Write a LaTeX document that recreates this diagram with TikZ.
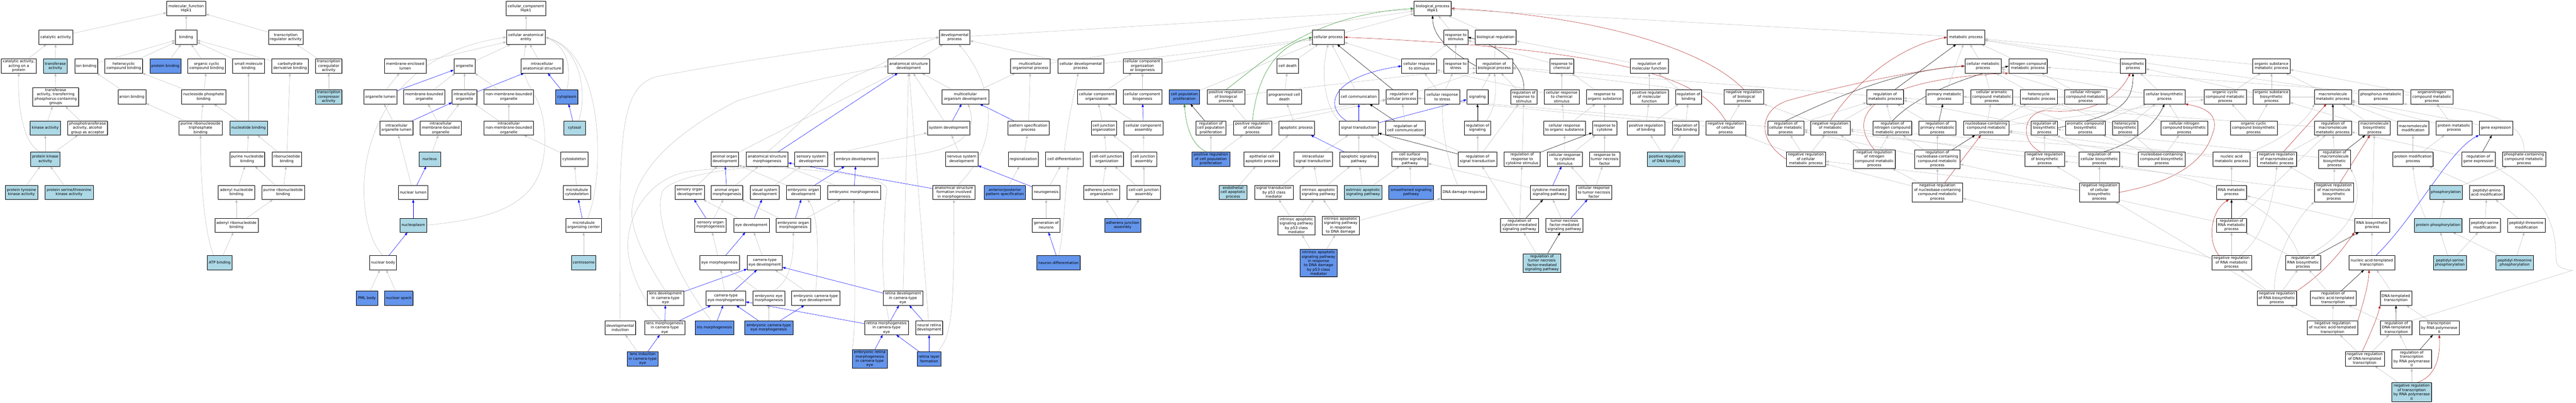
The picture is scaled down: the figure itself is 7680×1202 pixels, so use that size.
\documentclass[tikz,border=0pt]{standalone}
\usepackage{fontspec}
\setmainfont{DejaVu Sans}
\usetikzlibrary{arrows.meta,shadows}
\pgfdeclarelayer{bgfill}
\pgfdeclarelayer{edges}
\pgfsetlayers{bgfill,edges,main}
\definecolor{edgegray}{HTML}{BEBEBE}
\definecolor{lblue}{HTML}{ADD8E6}
\definecolor{cblue}{HTML}{6495ED}
\definecolor{fgreen}{HTML}{228B22}
\definecolor{fbrick}{HTML}{B22222}
\tikzset{
 box/.style={draw=black, line width=0.9pt, fill=white, align=center, inner xsep=2pt, inner ysep=1pt,
   minimum height=42pt, font=\fontsize{11}{13}\selectfont,
   drop shadow={shadow xshift=1.3pt, shadow yshift=-1.3pt, fill=gray!75, opacity=1}},
 flb/.style={fill=lblue}, fcb/.style={fill=cblue},
 hfour/.style={minimum height=56pt}, hsix/.style={minimum height=82pt},
 ebase/.style={line width=0.8pt, -{Triangle[length=9pt,width=6.5pt]}},
 ge/.style={ebase, color=edgegray},
 be/.style={ebase, color=blue},
 ke/.style={ebase, color=black},
 gre/.style={ebase, color=fgreen},
 re/.style={ebase, color=fbrick}
}
\newcommand\gonode[6]{\node[box,#5,minimum width=#4pt] (#1) at (#2,#3) {#6};}
\newcommand\Egray[2]{\draw[ge] (#1) -- (#2);}
\newcommand\Eblue[2]{\draw[be] (#1) -- (#2);}
\newcommand\Eblack[2]{\draw[ke] (#1) -- (#2);}
\newcommand\Ered[2]{\draw[re] (#1) -- (#2);}
\begin{document}
\begin{tikzpicture}[x=1pt,y=-1pt]
\begin{pgfonlayer}{bgfill}\fill[white] (0,0) rectangle (7680,1202);\end{pgfonlayer}
\useasboundingbox (0,0) rectangle (7680,1202);
% ---------------- molecular function
\gonode{mf}{555}{25}{116}{}{molecular\_function\\Hipk1}
\gonode{ca}{166}{111}{101}{}{catalytic activity}
\gonode{bind}{555}{111}{64}{}{binding}
\gonode{tra}{852}{111}{104}{}{transcription\\regulator activity}
\gonode{caap}{56}{197}{104}{}{catalytic activity,\\acting on a\\protein}
\gonode{ta}{165}{197}{71}{flb}{transferase\\activity}
\gonode{ionb}{257}{197}{69}{}{ion binding}
\gonode{hcb}{369}{197}{112}{}{heterocyclic\\compound binding}
\gonode{pb}{493}{197}{92}{fcb}{protein binding}
\gonode{occb}{616}{197}{112}{}{organic cyclic\\compound binding}
\gonode{smb}{741}{197}{95}{}{small molecule\\binding}
\gonode{cdb}{865}{197}{109}{}{carbohydrate\\derivative binding}
\gonode{tcoa}{980}{197}{79}{}{transcription\\coregulator\\activity}
\gonode{tcra}{980}{289}{79}{flb}{transcription\\corepressor\\activity}
\gonode{tatp}{166}{289}{137}{hfour}{transferase\\activity, transferring\\phosphorus-containing\\groups}
\gonode{anb}{393}{289}{83}{}{anion binding}
\gonode{npb}{607}{289}{131}{}{nucleoside phosphate\\binding}
\gonode{ka}{135}{382}{90}{flb}{kinase activity}
\gonode{pta}{261}{382}{119}{}{phosphotransferase\\activity, alcohol\\group as acceptor}
\gonode{prtb}{598}{382}{130}{}{purine ribonucleoside\\triphosphate\\binding}
\gonode{ntb}{741}{382}{112}{flb}{nucleotide binding}
\gonode{pka}{135}{475}{88}{flb}{protein kinase\\activity}
\gonode{pnb}{737}{475}{104}{}{purine nucleotide\\binding}
\gonode{rnb}{855}{475}{88}{}{ribonucleotide\\binding}
\gonode{ptk}{64}{574}{97}{flb}{protein tyrosine\\kinase activity}
\gonode{pstk}{206}{574}{144}{flb}{protein serine/threonine\\kinase activity}
\gonode{anb2}{705}{574}{109}{}{adenyl nucleotide\\binding}
\gonode{prnb}{844}{574}{127}{}{purine ribonucleotide\\binding}
\gonode{arnb}{705}{672}{129}{}{adenyl ribonucleotide\\binding}
\gonode{atpb}{655}{784}{74}{flb}{ATP binding}
% ---------------- cellular component
\gonode{cc}{1568}{25}{118}{}{cellular\_component\\Hipk1}
\gonode{cae}{1568}{111}{116}{}{cellular anatomical\\entity}
\gonode{mel}{1208}{197}{124}{}{membrane-enclosed\\lumen}
\gonode{org}{1385}{197}{64}{}{organelle}
\gonode{ias}{1616}{197}{125}{}{intracellular\\anatomical structure}
\gonode{orgl}{1134}{289}{99}{}{organelle lumen}
\gonode{mbo}{1265}{289}{123}{}{membrane-bounded\\organelle}
\gonode{io}{1385}{289}{74}{}{intracellular\\organelle}
\gonode{nmbo}{1517}{289}{147}{}{non-membrane-bounded\\organelle}
\gonode{cyto}{1690}{289}{66}{fcb}{cytoplasm}
\gonode{iol}{1182}{382}{99}{}{intracellular\\organelle lumen}
\gonode{imbo}{1314}{382}{123}{}{intracellular\\membrane-bounded\\organelle}
\gonode{inmbo}{1517}{382}{147}{}{intracellular\\non-membrane-bounded\\organelle}
\gonode{cytosol}{1713}{382}{64}{flb}{cytosol}
\gonode{nucleus}{1281}{475}{64}{flb}{nucleus}
\gonode{cysk}{1712}{475}{81}{}{cytoskeleton}
\gonode{nlum}{1232}{574}{87}{}{nuclear lumen}
\gonode{mtcs}{1720}{574}{80}{}{microtubule\\cytoskeleton}
\gonode{npl}{1232}{672}{79}{flb}{nucleoplasm}
\gonode{mtoc}{1740}{672}{105}{}{microtubule\\organizing center}
\gonode{nbody}{1142}{784}{80}{}{nuclear body}
\gonode{csome}{1740}{784}{73}{flb}{centrosome}
\gonode{pml}{1094}{890}{64}{fcb}{PML body}
\gonode{nspeck}{1189}{890}{85}{fcb}{nuclear speck}
% ---------------- development
\gonode{devind}{1849}{978}{92}{}{developmental\\induction}
\gonode{lensind}{1916}{1071}{92}{fcb}{lens induction\\in camera-type\\eye}
\gonode{aod}{2161}{475}{81}{}{animal organ\\development}
\gonode{asm}{2287}{475}{125}{}{anatomical structure\\morphogenesis}
\gonode{ssd}{2418}{475}{97}{}{sensory system\\development}
\gonode{embd}{2552}{475}{130}{}{embryo development}
\gonode{sod}{2056}{574}{88}{}{sensory organ\\development}
\gonode{aom}{2167}{574}{95}{}{animal organ\\morphogenesis}
\gonode{vsd}{2280}{574}{85}{}{visual system\\development}
\gonode{eod}{2395}{574}{102}{}{embryonic organ\\development}
\gonode{embm}{2546}{574}{158}{}{embryonic morphogenesis}
\gonode{som}{2118}{672}{94}{}{sensory organ\\morphogenesis}
\gonode{eyed}{2240}{672}{106}{}{eye development}
\gonode{eom}{2365}{672}{102}{}{embryonic organ\\morphogenesis}
\gonode{eyem}{2145}{784}{118}{}{eye morphogenesis}
\gonode{cted}{2280}{784}{105}{}{camera-type\\eye development}
\gonode{lensd}{1984}{890}{108}{}{lens development\\in camera-type\\eye}
\gonode{ctem}{2164}{890}{118}{}{camera-type\\eye morphogenesis}
\gonode{eem}{2292}{890}{95}{}{embryonic eye\\morphogenesis}
\gonode{ected}{2432}{890}{144}{}{embryonic camera-type\\eye development}
\gonode{lensm}{1982}{978}{120}{}{lens morphogenesis\\in camera-type\\eye}
\gonode{irism}{2130}{978}{116}{fcb}{iris morphogenesis}
\gonode{ectem}{2292}{978}{144}{fcb}{embryonic camera-type\\eye morphogenesis}
\gonode{erm}{2593}{1071}{104}{fcb,hfour}{embryonic retina\\morphogenesis\\in camera-type\\eye}
\gonode{devp}{2846}{111}{91}{}{developmental\\process}
\gonode{asd}{2709}{197}{124}{}{anatomical structure\\development}
\gonode{mop}{3072}{197}{118}{}{multicellular\\organismal process}
\gonode{cdp}{3222}{197}{137}{}{cellular developmental\\process}
\gonode{mod}{2878}{289}{139}{}{multicellular\\organism development}
\gonode{sysd}{2828}{382}{127}{}{system development}
\gonode{psp}{3066}{382}{123}{}{pattern specification\\process}
\gonode{nsd}{2867}{475}{97}{}{nervous system\\development}
\gonode{regz}{3051}{475}{90}{}{regionalization}
\gonode{celld}{3173}{475}{111}{}{cell differentiation}
\gonode{asfim}{2844}{574}{126}{}{anatomical structure\\formation involved\\in morphogenesis}
\gonode{aps}{2996}{574}{123}{fcb}{anterior/posterior\\pattern specification}
\gonode{neurog}{3119}{574}{83}{}{neurogenesis}
\gonode{genn}{3119}{672}{83}{}{generation of\\neurons}
\gonode{neurd}{3156}{784}{129}{fcb}{neuron differentiation}
\gonode{retd}{2692}{890}{118}{}{retina development\\in camera-type\\eye}
\gonode{retm}{2643}{978}{130}{}{retina morphogenesis\\in camera-type\\eye}
\gonode{nretd}{2770}{978}{81}{}{neural retina\\development}
\gonode{retlf}{2770}{1071}{71}{fcb}{retina layer\\formation}
% ---------------- cellular processes
\gonode{ccob}{3406}{197}{115}{}{cellular component\\organization\\or biogenesis}
\gonode{cco}{3270}{289}{116}{}{cellular component\\organization}
\gonode{ccb}{3406}{289}{115}{}{cellular component\\biogenesis}
\gonode{cpp}{3531}{289}{90}{fcb}{cell population\\proliferation}
\gonode{prbp}{3655}{289}{113}{}{positive regulation\\of biological\\process}
\gonode{cjo}{3291}{382}{76}{}{cell junction\\organization}
\gonode{cca}{3409}{382}{116}{}{cellular component\\assembly}
\gonode{rcpp}{3610}{382}{90}{}{regulation of\\cell population\\proliferation}
\gonode{prcp}{3734}{382}{113}{}{positive regulation\\of cellular\\process}
\gonode{ccjo}{3300}{475}{99}{}{cell-cell junction\\organization}
\gonode{cja}{3410}{475}{76}{}{cell junction\\assembly}
\gonode{prcpp}{3610}{475}{114}{fcb}{positive regulation\\of cell population\\proliferation}
\gonode{ecap}{3762}{475}{106}{}{epithelial cell\\apoptotic process}
\gonode{ajo}{3284}{574}{108}{}{adherens junction\\organization}
\gonode{ccja}{3410}{574}{100}{}{cell-cell junction\\assembly}
\gonode{endap}{3676}{574}{82}{flb}{endothelial\\cell apoptotic\\process}
\gonode{stp53}{3798}{574}{115}{}{signal transduction\\by p53 class\\mediator}
\gonode{aja}{3347}{672}{108}{fcb}{adherens junction\\assembly}
% ---------------- biological process core
\gonode{bp}{4271}{25}{111}{}{biological\_process\\Hipk1}
\gonode{cp}{3960}{111}{95}{}{cellular process}
\gonode{rts}{4340}{111}{72}{}{response to\\stimulus}
\gonode{breg}{4459}{111}{122}{}{biological regulation}
\gonode{celldeath}{3839}{197}{64}{}{cell death}
\gonode{crs}{4231}{197}{104}{}{cellular response\\to stimulus}
\gonode{rtstress}{4340}{197}{72}{}{response to\\stress}
\gonode{rbp}{4455}{197}{109}{}{regulation of\\biological process}
\gonode{pcd}{3829}{289}{103}{}{programmed cell\\death}
\gonode{ccomm}{4051}{289}{118}{}{cell communication}
\gonode{rcp}{4179}{289}{94}{}{regulation of\\cellular process}
\gonode{crstress}{4300}{289}{104}{}{cellular response\\to stress}
\gonode{sig}{4405}{289}{64}{}{signaling}
\gonode{apop}{3865}{382}{106}{}{apoptotic process}
\gonode{st}{4051}{382}{116}{}{signal transduction}
\gonode{rcc}{4190}{382}{119}{}{regulation of\\cell communication}
\gonode{rsig}{4405}{382}{78}{}{regulation of\\signaling}
\gonode{ist}{3915}{475}{115}{}{intracellular\\signal transduction}
\gonode{asp}{4051}{475}{115}{}{apoptotic signaling\\pathway}
\gonode{csrsp}{4203}{475}{108}{}{cell surface\\receptor signaling\\pathway}
\gonode{rst}{4405}{475}{116}{}{regulation of\\signal transduction}
\gonode{iasp}{3931}{574}{110}{}{intrinsic apoptotic\\signaling pathway}
\gonode{easp}{4064}{574}{111}{flb}{extrinsic apoptotic\\signaling pathway}
\gonode{ssp}{4207}{574}{133}{fcb}{smoothened signaling\\pathway}
\gonode{ddr}{4364}{574}{136}{}{DNA damage response}
\gonode{iasp53}{3865}{673}{111}{hfour}{intrinsic apoptotic\\signaling pathway\\by p53 class\\mediator}
\gonode{iaspdna}{3997}{673}{111}{hfour}{intrinsic apoptotic\\signaling pathway\\in response\\to DNA damage}
\gonode{iaspdna53}{3931}{785}{110}{fcb,hsix}{intrinsic apoptotic\\signaling pathway\\in response\\to DNA damage\\by p53 class\\mediator}
\gonode{rtc}{4656}{197}{72}{}{response to\\chemical}
\gonode{rmf}{4917}{197}{113}{}{regulation of\\molecular function}
\gonode{rrs}{4543}{289}{78}{}{regulation of\\response to\\stimulus}
\gonode{crcs}{4656}{289}{103}{}{cellular response\\to chemical\\stimulus}
\gonode{ros}{4784}{289}{109}{}{response to\\organic substance}
\gonode{prmf}{4917}{289}{113}{}{positive regulation\\of molecular\\function}
\gonode{rbind}{5034}{289}{78}{}{regulation of\\binding}
\gonode{cros}{4664}{382}{124}{}{cellular response\\to organic substance}
\gonode{rtcyt}{4784}{382}{73}{}{response to\\cytokine}
\gonode{prbind}{4907}{382}{113}{}{positive regulation\\of binding}
\gonode{rdnab}{5025}{382}{78}{}{regulation of\\DNA binding}
\gonode{nrcp}{5145}{382}{118}{}{negative regulation\\of cellular\\process}
\gonode{rrcs}{4538}{475}{108}{}{regulation of\\response to\\cytokine stimulus}
\gonode{crcyt}{4665}{475}{104}{}{cellular response\\to cytokine\\stimulus}
\gonode{rtnf}{4784}{475}{90}{}{response to\\tumor necrosis\\factor}
\gonode{prdnab}{4967}{475}{113}{flb}{positive regulation\\of DNA binding}
\gonode{cmsp}{4620}{574}{114}{}{cytokine-mediated\\signaling pathway}
\gonode{crtnf}{4752}{574}{105}{}{cellular response\\to tumor necrosis\\factor}
\gonode{rcmsp}{4530}{672}{114}{}{regulation of\\cytokine-mediated\\signaling pathway}
\gonode{tnfsp}{4664}{672}{110}{}{tumor necrosis\\factor-mediated\\signaling pathway}
\gonode{rtnfsp}{4597}{785}{111}{flb,hfour}{regulation of\\tumor necrosis\\factor-mediated\\signaling pathway}
% ---------------- metabolism
\gonode{nrbp}{5199}{289}{118}{}{negative regulation\\of biological\\process}
\gonode{rcmp}{5324}{382}{108}{}{regulation of\\cellular metabolic\\process}
\gonode{nrmp}{5457}{382}{117}{}{negative regulation\\of metabolic\\process}
\gonode{rmp}{5620}{289}{110}{}{regulation of\\metabolic process}
\gonode{pmp}{5797}{289}{111}{}{primary metabolic\\process}
\gonode{rncmp}{5642}{382}{115}{}{regulation of\\nitrogen compound\\metabolic process}
\gonode{rpmp}{5776}{382}{111}{}{regulation of\\primary metabolic\\process}
\gonode{nrcmp}{5384}{475}{117}{}{negative regulation\\of cellular\\metabolic process}
\gonode{nrncmp}{5588}{475}{125}{hfour}{negative regulation\\of nitrogen\\compound metabolic\\process}
\gonode{rnbcmp}{5776}{475}{135}{hfour}{regulation of\\nucleobase-containing\\compound metabolic\\process}
\gonode{nrnbcmp}{5776}{574}{151}{hfour}{negative regulation\\of nucleobase-containing\\compound metabolic\\process}
\gonode{mp}{5861}{111}{111}{}{metabolic process}
\gonode{cmp}{5912}{197}{108}{}{cellular metabolic\\process}
\gonode{ncmp}{6046}{197}{115}{}{nitrogen compound\\metabolic process}
\gonode{bsp}{6359}{197}{76}{}{biosynthetic\\process}
\gonode{cacmp}{5938}{289}{125}{}{cellular aromatic\\compound metabolic\\process}
\gonode{hmp}{6078}{289}{110}{}{heterocycle\\metabolic process}
\gonode{cncmp}{6218}{289}{125}{}{cellular nitrogen\\compound metabolic\\process}
\gonode{cbsp}{6453}{289}{122}{}{cellular biosynthetic\\process}
\gonode{nbcmp}{5922}{382}{135}{}{nucleobase-containing\\compound metabolic\\process}
\gonode{rbsp}{6095}{382}{78}{}{regulation of\\biosynthetic\\process}
\gonode{acbsp}{6217}{382}{119}{}{aromatic compound\\biosynthetic\\process}
\gonode{hbsp}{6336}{382}{75}{}{heterocycle\\biosynthetic\\process}
\gonode{nrbsp}{6096}{475}{117}{}{negative regulation\\of biosynthetic\\process}
\gonode{rcbsp}{6259}{475}{122}{}{regulation of\\cellular biosynthetic\\process}
\gonode{nbcbsp}{6445}{475}{139}{}{nucleobase-containing\\compound biosynthetic\\process}
\gonode{nrcbsp}{6259}{574}{118}{hfour}{negative regulation\\of cellular\\biosynthetic\\process}
\gonode{osmp}{6772}{197}{111}{}{organic substance\\metabolic process}
\gonode{occmp}{6634}{289}{126}{}{organic cyclic\\compound metabolic\\process}
\gonode{osbsp}{6772}{289}{109}{}{organic substance\\biosynthetic\\process}
\gonode{mmp}{6955}{289}{110}{}{macromolecule\\metabolic process}
\gonode{phmp}{7098}{289}{133}{}{phosphorus metabolic\\process}
\gonode{oncmp}{7250}{289}{125}{}{organonitrogen\\compound metabolic\\process}
\gonode{cncbsp}{6512}{382}{140}{}{cellular nitrogen\\compound biosynthetic\\process}
\gonode{occbsp}{6719}{382}{140}{}{organic cyclic\\compound biosynthetic\\process}
\gonode{rmmp}{6955}{382}{110}{}{regulation of\\macromolecule\\metabolic process}
\gonode{mbsp}{7079}{382}{94}{}{macromolecule\\biosynthetic\\process}
\gonode{mmod}{7194}{382}{94}{}{macromolecule\\modification}
\gonode{protmp}{7316}{382}{107}{}{protein metabolic\\process}
\gonode{gexp}{7441}{382}{100}{}{gene expression}
\gonode{namp}{6653}{475}{110}{}{nucleic acid\\metabolic process}
\gonode{nrmmp}{6788}{475}{118}{}{negative regulation\\of macromolecule\\metabolic process}
\gonode{rmmbsp}{6960}{475}{94}{hfour}{regulation of\\macromolecule\\biosynthetic\\process}
\gonode{pmod}{7194}{475}{120}{}{protein modification\\process}
\gonode{rgexp}{7389}{475}{99}{}{regulation of\\gene expression}
\gonode{pccmp}{7525}{475}{129}{}{phosphate-containing\\compound metabolic\\process}
\gonode{rnamp}{6653}{574}{90}{}{RNA metabolic\\process}
\gonode{nrmmbsp}{6958}{574}{117}{hfour}{negative regulation\\of macromolecule\\biosynthetic\\process}
\gonode{phos}{7292}{574}{97}{flb}{phosphorylation}
\gonode{paam}{7414}{574}{104}{}{peptidyl-amino\\acid modification}
\gonode{rrnamp}{6653}{672}{90}{}{regulation of\\RNA metabolic\\process}
\gonode{rnabsp}{7072}{672}{104}{}{RNA biosynthetic\\process}
\gonode{pphos}{7269}{672}{142}{flb}{protein phosphorylation}
\gonode{psm}{7408}{672}{92}{}{peptidyl-serine\\modification}
\gonode{ptm}{7532}{672}{111}{}{peptidyl-threonine\\modification}
\gonode{nrrnamp}{6653}{784}{118}{}{negative regulation\\of RNA metabolic\\process}
\gonode{rrnabsp}{6866}{784}{104}{}{regulation of\\RNA biosynthetic\\process}
\gonode{natt}{7071}{784}{137}{}{nucleic acid-templated\\transcription}
\gonode{psp2}{7304}{784}{97}{flb}{peptidyl-serine\\phosphorylation}
\gonode{ptp}{7497}{784}{111}{flb}{peptidyl-threonine\\phosphorylation}
\gonode{nrrnabsp}{6788}{890}{118}{}{negative regulation\\of RNA biosynthetic\\process}
\gonode{rnatt}{6956}{890}{137}{}{regulation of\\nucleic acid-templated\\transcription}
\gonode{dtt}{7143}{890}{94}{}{DNA-templated\\transcription}
\gonode{nrnatt}{6954}{978}{151}{}{negative regulation\\of nucleic acid-templated\\transcription}
\gonode{rdtt}{7144}{978}{94}{}{regulation of\\DNA-templated\\transcription}
\gonode{trnap}{7272}{978}{118}{}{transcription\\by RNA polymerase\\II}
\gonode{nrdtt}{7050}{1071}{117}{}{negative regulation\\of DNA-templated\\transcription}
\gonode{rtrnap}{7190}{1071}{119}{hfour}{regulation of\\transcription\\by RNA polymerase\\II}
\gonode{nrtrnap}{7190}{1170}{119}{flb,hfour}{negative regulation\\of transcription\\by RNA polymerase\\II}

\begin{pgfonlayer}{edges}
% MF
\Egray{ca}{mf} \Egray{bind}{mf} \Egray{tra}{mf}
\Egray{caap}{ca} \Egray{ta}{ca}
\Egray{ionb}{bind} \Egray{hcb}{bind} \Egray{pb}{bind} \Egray{occb}{bind} \Egray{smb}{bind} \Egray{cdb}{bind}
\Egray{tcoa}{tra} \Egray{tcra}{tcoa} \Egray{tatp}{ta} \Egray{anb}{ionb}
\Egray{npb}{hcb} \Egray{npb}{occb} \Egray{ka}{tatp} \Egray{pta}{tatp}
\Egray{prtb}{anb} \Egray{prtb}{npb} \Egray{ntb}{npb} \Egray{ntb}{smb}
\Egray{pka}{ka} \Egray{pka}{pta}
\draw[ge] (pka.125) .. controls (70,430) and (52,320) .. (caap.south);
\Egray{pnb}{ntb} \Egray{rnb}{ntb} \Egray{rnb}{cdb}
\Egray{ptk}{pka} \Egray{pstk}{pka}
\Egray{anb2}{pnb} \Egray{prnb}{pnb} \Egray{prnb}{rnb}
\Egray{arnb}{anb2} \Egray{arnb}{prnb} \Egray{atpb}{arnb}
\draw[ge] (atpb.130) .. controls (612,700) and (598,560) .. (prtb.south);
% CC
\Egray{cae}{cc} \Egray{org}{cae} \Egray{ias}{cae} \Egray{mel}{cae}
\Eblue{cyto}{ias}
\draw[ge] (cyto.north) .. controls (1705,200) and (1690,140) .. (cae.east);
\Eblue{cytosol}{cyto}
\draw[ge] (cytosol.60) .. controls (1748,290) and (1740,150) .. (cae.east);
\draw[ge] (mtoc.60) .. controls (1805,520) and (1800,160) .. (cae.east);
\draw[ge] (nbody.north) .. controls (1040,660) and (1030,180) .. (cae.west);
\draw[ge] (npl.east) .. controls (1500,650) and (1625,600) .. (1624,420) .. controls (1624,250) and (1540,280) .. (cae.south);
\Egray{orgl}{mel} \Eblue{orgl}{org}
\Egray{mbo}{org} \Egray{io}{org} \Eblue{io}{ias} \Egray{nmbo}{org}
\Egray{iol}{orgl} \Eblue{iol}{io}
\Egray{imbo}{mbo} \Egray{imbo}{io} \Egray{inmbo}{nmbo} \Egray{inmbo}{io}
\Egray{nucleus}{imbo} \Egray{nlum}{iol} \Eblue{nlum}{nucleus}
\Eblue{npl}{nlum} \Eblue{nbody}{npl} \Egray{pml}{nbody} \Egray{nspeck}{nbody}
\Egray{cysk}{inmbo} \Egray{mtcs}{cysk} \Eblue{mtoc}{mtcs} \Egray{csome}{mtoc}
% development
\Eblue{lensind}{lensm} \Egray{lensind}{devind}
\draw[ge] (devind.north) .. controls (1846,420) and (1840,260) .. (1960,228) .. controls (2300,165) and (2600,125) .. (devp.west);
\Egray{aod}{asd} \Eblue{asm}{asd}
\draw[ge] (asm.north) .. controls (2380,380) and (2480,255) .. (2560,222) .. controls (2650,185) and (2720,135) .. (devp.west);
\Egray{ssd}{sysd}
\draw[ge] (embd.east) .. controls (2800,460) and (2930,430) .. (mod.290);
\Egray{sod}{aod} \Eblue{aom}{aod} \Egray{aom}{asm} \Egray{vsd}{ssd}
\Egray{eod}{aod} \Eblue{eod}{embd} \Egray{embm}{asm} \Eblue{embm}{embd}
\Eblue{som}{sod} \Egray{som}{aom} \Egray{eyed}{sod} \Eblue{eyed}{vsd}
\Egray{eom}{aom} \Eblue{eom}{eod} \Egray{eom}{embm}
\Egray{eyem}{som} \Eblue{eyem}{eyed} \Egray{cted}{eyed}
\Eblue{lensd}{cted}
\draw[ge] (lensd.north) .. controls (1940,800) and (1880,700) .. (1884,629) .. controls (1890,520) and (2000,400) .. (2200,300) .. controls (2400,240) and (2550,215) .. (asd.west);
\Egray{ctem}{eyem} \Eblue{ctem}{cted} \Egray{eem}{eyem}
\draw[ge] (eem.60) .. controls (2360,840) and (2366,760) .. (eom.south);
\Egray{ected}{cted}
\draw[ge] (ected.north) .. controls (2442,760) and (2440,640) .. (eod.300);
\Eblue{lensm}{lensd} \Eblue{lensm}{ctem}
\draw[ge] (lensm.115) .. controls (1925,910) and (1866,800) .. (1872,721) .. controls (1878,620) and (1950,530) .. (2050,512) .. controls (2150,500) and (2200,500) .. (asm.south west);
\Eblue{irism}{ctem}
\draw[ge] (irism.115) .. controls (2000,800) and (1950,640) .. (1975,571) .. controls (2000,530) and (2150,505) .. (asm.240);
\Eblue{ectem}{ctem} \Egray{ectem}{eem} \Eblue{ectem}{ected}
\Eblue{erm}{retm}
\draw[ge] (erm.north west) .. controls (2555,980) and (2545,700) .. (embm.south);
\Egray{devp}{bp} \Egray{asd}{devp} \Egray{mod}{asd} \Egray{mod}{mop}
\Egray{sysd}{asd} \Eblue{sysd}{mod} \Eblue{psp}{mod} \Egray{psp}{mop}
\Egray{nsd}{sysd} \Egray{regz}{psp} \Egray{aps}{regz}
\Eblue{neurog}{nsd} \Egray{neurog}{celld} \Egray{genn}{neurog} \Eblue{neurd}{genn}
\draw[ge] (neurd.north) .. controls (3172,700) and (3176,560) .. (celld.300);
\draw[ge] (celld.north) .. controls (3185,350) and (3205,270) .. (cdp.250);
\Egray{cdp}{devp} \Egray{cdp}{cp} \Egray{mop}{bp}
\Egray{retd}{asd} \Eblue{retd}{cted}
\Eblue{retm}{retd} \Eblue{retm}{ctem}
\draw[ge] (retm.70) .. controls (2615,800) and (2640,600) .. (2644,567) .. controls (2650,525) and (2450,510) .. (asm.south);
\Egray{nretd}{asd} \Eblue{nretd}{retd}
\Eblue{retlf}{nretd} \Eblue{retlf}{retm}
\draw[ge] (retlf.40) .. controls (2842,1000) and (2844,900) .. (asfim.south);
\Eblue{asfim}{asm}
\draw[ge] (asfim.60) .. controls (2990,420) and (2960,250) .. (devp.300);
% cellular
\Egray{ccob}{cp} \Egray{cco}{ccob} \Egray{ccb}{ccob}
\Egray{cjo}{cco} \Egray{cca}{cco} \Eblue{cca}{ccb}
\Egray{ccjo}{cjo} \Egray{cja}{cjo} \Egray{cja}{cca}
\Egray{ajo}{ccjo} \Egray{ccja}{ccjo} \Egray{ccja}{cja}
\Egray{aja}{ajo} \Egray{aja}{ccja} \Egray{cpp}{cp}
\draw[gre] (prbp.north) .. controls (3760,190) and (3900,45) .. (bp.west);
\Egray{prbp}{rbp}
\Eblack{rcpp}{cpp} \Egray{rcpp}{rcp}
\draw[gre] (prcpp.120) .. controls (3545,430) and (3535,360) .. (cpp.south);
\Egray{prcpp}{rcpp} \Egray{prcpp}{prcp}
\Egray{prcp}{prbp} \Egray{prcp}{rcp}
\draw[gre] (prcp.north) .. controls (3745,250) and (3790,140) .. (cp.west);
\Egray{ecap}{apop} \Egray{endap}{ecap} \Egray{stp53}{ist}
\Egray{iasp53}{stp53} \Egray{iasp53}{iasp}
\Egray{celldeath}{cp} \Egray{pcd}{celldeath} \Egray{apop}{pcd}
% bp core
\Egray{cp}{bp} \Egray{rts}{bp} \Egray{breg}{bp}
\draw[ke] (rbp.west) .. controls (4320,150) and (4272,110) .. (bp.south);
\Egray{rbp}{breg} \Egray{crs}{rts} \Egray{crs}{cp} \Egray{rtstress}{rts}
\Egray{ccomm}{cp} \Eblack{rcp}{cp} \Egray{rcp}{rbp}
\Egray{crstress}{crs} \Egray{crstress}{rtstress} \Egray{sig}{rbp}
\Eblue{st}{ccomm}
\draw[be] (st.150) .. controls (3950,320) and (3960,230) .. (crs.west);
\Eblue{st}{sig}
\draw[ge] (st.160) .. controls (3935,300) and (3945,180) .. (cp.south);
\Eblack{rcc}{ccomm} \Egray{rcc}{rcp} \Eblack{rsig}{sig}
\draw[ge] (rsig.40) .. controls (4462,320) and (4462,260) .. (rbp.south);
\Egray{ist}{st} \Egray{asp}{st} \Eblue{asp}{apop} \Egray{csrsp}{st}
\Eblack{rst}{st} \Egray{rst}{rsig} \Egray{rst}{rcc} \Egray{rst}{rrs}
\Egray{iasp}{ist} \Egray{iasp}{asp} \Egray{easp}{asp} \Egray{easp}{csrsp} \Egray{ssp}{csrsp}
\draw[ge] (ddr.130) .. controls (4310,470) and (4300,380) .. (crstress.south);
\Egray{iaspdna}{iasp} \Egray{iaspdna}{ddr}
\Egray{iaspdna53}{iasp53} \Egray{iaspdna53}{iaspdna}
\Egray{rtc}{rts} \Egray{rmf}{breg}
\draw[ke] (rrs.north) .. controls (4548,200) and (4470,135) .. (rts.east);
\Egray{rrs}{rbp}
\Egray{crcs}{rtc} \Egray{crcs}{crs} \Egray{ros}{rtc}
\Egray{prmf}{rmf} \Egray{rbind}{rmf}
\Egray{cros}{crcs} \Egray{cros}{ros} \Egray{rtcyt}{ros}
\Egray{prbind}{prmf} \Egray{prbind}{rbind} \Egray{rdnab}{rbind}
\Egray{prdnab}{prbind} \Egray{prdnab}{rdnab}
\Egray{nrcp}{nrbp} \Egray{nrcp}{rcp}
\draw[re] (nrcp.north) .. controls (5080,250) and (4900,150) .. (cp.east);
\draw[re] (nrbp.north) .. controls (5100,160) and (4800,50) .. (bp.east);
\Egray{nrbp}{rbp}
\Eblack{rrcs}{rtcyt} \Egray{rrcs}{rrs}
\Egray{crcyt}{cros} \Egray{crcyt}{rtcyt} \Egray{rtnf}{rtcyt}
\Eblue{cmsp}{crcyt} \Egray{cmsp}{csrsp}
\Egray{crtnf}{rtnf} \Egray{crtnf}{crcyt}
\Eblack{rcmsp}{cmsp} \Egray{rcmsp}{rrcs} \Egray{rcmsp}{rst}
\Egray{tnfsp}{cmsp} \Eblue{tnfsp}{crtnf}
\Egray{rtnfsp}{rcmsp} \Eblack{rtnfsp}{tnfsp}
% metabolism
\Egray{mp}{bp}
\Eblack{rmp}{mp} \Egray{rmp}{rbp}
\Egray{nrmp}{rmp} \Egray{nrmp}{nrbp}
\draw[re] (nrmp.north) .. controls (5520,260) and (5650,140) .. (mp.west);
\Egray{rcmp}{rmp} \Egray{rcmp}{rcp}
\draw[ke] (rcmp.north) .. controls (5450,300) and (5650,210) .. (cmp.west);
\Egray{nrcmp}{rcmp} \Egray{nrcmp}{nrmp} \Egray{nrcmp}{nrcp}
\draw[re] (nrcmp.west) .. controls (5240,420) and (5240,330) .. (5330,300) .. controls (5550,240) and (5750,205) .. (cmp.west);
\Egray{rncmp}{rmp}
\draw[ke] (rncmp.north) .. controls (5720,280) and (5850,235) .. (ncmp.west);
\Egray{nrncmp}{rncmp} \Egray{nrncmp}{nrmp}
\draw[re] (nrncmp.north) .. controls (5490,330) and (5620,235) .. (ncmp.south west);
\Egray{rpmp}{rmp} \Eblack{rpmp}{pmp}
\Egray{rnbcmp}{rncmp} \Egray{rnbcmp}{rpmp} \Eblack{rnbcmp}{nbcmp} \Egray{rnbcmp}{rcmp}
\Egray{nrnbcmp}{rnbcmp} \Egray{nrnbcmp}{nrncmp} \Egray{nrnbcmp}{nrcmp} \Ered{nrnbcmp}{nbcmp}
\Egray{pmp}{mp} \Egray{cmp}{mp} \Egray{ncmp}{mp} \Egray{bsp}{mp} \Egray{osmp}{mp} \Egray{phmp}{mp}
\Egray{cacmp}{cmp} \Egray{hmp}{cmp} \Egray{cncmp}{ncmp} \Egray{cncmp}{cmp}
\Egray{cbsp}{bsp} \Egray{cbsp}{cmp}
\Egray{nbcmp}{cacmp} \Egray{nbcmp}{hmp} \Egray{nbcmp}{cncmp} \Egray{nbcmp}{occmp}
\draw[ke] (rbsp.east) .. controls (6300,345) and (6360,320) .. (bsp.south);
\Egray{rbsp}{rmp}
\Egray{acbsp}{cacmp} \Egray{acbsp}{cbsp} \Egray{hbsp}{hmp} \Egray{hbsp}{cbsp}
\Egray{nrbsp}{rbsp} \Egray{nrbsp}{nrmp}
\draw[re] (nrbsp.120) .. controls (6020,420) and (6030,335) .. (6100,330) .. controls (6250,345) and (6320,280) .. (bsp.250);
\Egray{rcbsp}{rbsp} \Egray{rcbsp}{rcmp}
\draw[ke] (rcbsp.60) .. controls (6380,420) and (6430,360) .. (cbsp.south);
\Egray{nbcbsp}{nbcmp} \Egray{nbcbsp}{hbsp} \Egray{nbcbsp}{acbsp} \Egray{nbcbsp}{cncbsp}
\Egray{nrcbsp}{rcbsp} \Egray{nrcbsp}{nrbsp} \Egray{nrcbsp}{nrcmp}
\draw[re] (nrcbsp.east) .. controls (6450,550) and (6565,500) .. (6596,400) .. controls (6620,340) and (6570,320) .. (cbsp.south east);
\Egray{occmp}{osmp} \Egray{osbsp}{osmp} \Egray{osbsp}{bsp}
\Egray{mmp}{osmp} \Egray{mmp}{pmp} \Egray{oncmp}{osmp} \Egray{oncmp}{ncmp}
\Egray{cncbsp}{cbsp} \Egray{cncbsp}{cncmp} \Egray{occbsp}{occmp} \Egray{occbsp}{osbsp}
\Eblack{rmmp}{mmp} \Egray{rmmp}{rmp} \Egray{mbsp}{mmp} \Egray{mbsp}{osbsp}
\Egray{mmod}{mmp} \Egray{protmp}{oncmp} \Egray{protmp}{mmp} \Egray{gexp}{mmp}
\Egray{namp}{nbcmp}
\draw[ge] (namp.north east) .. controls (6800,420) and (6880,360) .. (mmp.south west);
\Egray{nrmmp}{rmmp} \Ered{nrmmp}{mmp} \Egray{nrmmp}{nrmp}
\Egray{rmmbsp}{rmmp} \Egray{rmmbsp}{rbsp} \Eblack{rmmbsp}{mbsp}
\Egray{pmod}{mmod} \Egray{pmod}{protmp}
\Eblack{rgexp}{gexp} \Egray{rgexp}{rmmp}
\draw[ge] (pccmp.north) .. controls (7530,340) and (7350,320) .. (phmp.south east);
\Egray{rnamp}{namp}
\Egray{nrmmbsp}{rmmbsp} \Egray{nrmmbsp}{nrmmp} \Ered{nrmmbsp}{mbsp} \Egray{nrmmbsp}{nrbsp}
\Egray{phos}{pccmp} \Egray{paam}{pmod}
\Eblack{rrnamp}{rnamp} \Egray{rrnamp}{rmmp} \Egray{rrnamp}{rnbcmp}
\Egray{rnabsp}{rnamp} \Egray{rnabsp}{mbsp}
\Egray{pphos}{phos}
\draw[ge] (pphos.150) .. controls (7215,620) and (7200,560) .. (pmod.south);
\Egray{psm}{paam} \Egray{ptm}{paam}
\Egray{nrrnamp}{rrnamp} \Egray{nrrnamp}{nrnbcmp}
\draw[re] (nrrnamp.150) .. controls (6580,720) and (6590,630) .. (rnamp.250);
\draw[ge] (nrrnamp.40) .. controls (6760,700) and (6782,560) .. (nrmmp.south);
\Egray{rrnabsp}{rrnamp} \Eblack{rrnabsp}{rnabsp}
\draw[ge] (rrnabsp.60) .. controls (7000,700) and (7060,600) .. (rmmbsp.south east);
\draw[ge] (rrnabsp.120) .. controls (6830,680) and (6700,540) .. (rcbsp.south east);
\draw[be] (natt.60) .. controls (7200,650) and (7300,450) .. (gexp.south west);
\Egray{natt}{rnabsp}
\Egray{psp2}{pphos} \Egray{psp2}{psm} \Egray{ptp}{pphos} \Egray{ptp}{ptm}
\Egray{nrrnabsp}{rrnabsp} \Egray{nrrnabsp}{nrrnamp} \Egray{nrrnabsp}{nrcbsp}
\draw[re] (nrrnabsp.north east) .. controls (6950,800) and (7000,720) .. (rnabsp.south west);
\draw[ge] (nrrnabsp.110) .. controls (6780,760) and (6850,650) .. (nrmmbsp.south west);
\Egray{rnatt}{rrnabsp} \Eblack{rnatt}{natt} \Egray{dtt}{natt}
\Egray{nrnatt}{rnatt} \Egray{nrnatt}{nrrnabsp}
\draw[re] (nrnatt.north east) .. controls (7040,920) and (7060,860) .. (natt.250);
\Eblack{rdtt}{dtt} \Egray{rdtt}{rnatt}
\draw[ge] (rdtt.north east) -- (7669,807) .. controls (7622,800) and (7620,790) .. (7620,760) .. controls (7620,600) and (7500,540) .. (rgexp.south east);
\Egray{trnap}{dtt}
\Egray{nrdtt}{nrnatt} \Egray{nrdtt}{rdtt}
\draw[re] (nrdtt.110) .. controls (7070,990) and (7090,940) .. (dtt.south west);
\Egray{rtrnap}{rdtt} \Eblack{rtrnap}{trnap}
\Egray{nrtrnap}{rtrnap} \Egray{nrtrnap}{nrdtt}
\draw[re] (nrtrnap.60) .. controls (7270,1120) and (7275,1050) .. (trnap.south);
\end{pgfonlayer}
\end{tikzpicture}
\end{document}
